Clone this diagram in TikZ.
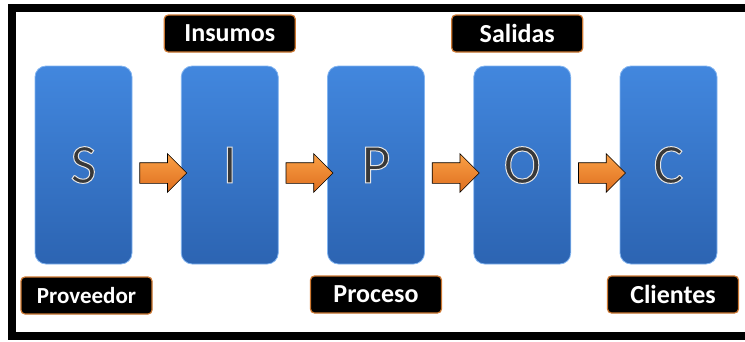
\documentclass[tikz,border=0pt]{standalone}
\usepackage{fontspec}
\setmainfont{Carlito}
\usepackage{tikz}
\usetikzlibrary{shapes, arrows, positioning, calc}
\definecolor{boxTop}{RGB}{66,135,222}
\definecolor{boxBottom}{RGB}{44,100,178}
\definecolor{boxRim}{RGB}{130,180,240}
\definecolor{arrowTop}{RGB}{250,160,70}
\definecolor{arrowBottom}{RGB}{222,110,30}
\definecolor{glow}{RGB}{205,120,50}
\tikzstyle{stage}=[rectangle, rounded corners=11pt, minimum width=97pt,
  minimum height=198pt, top color=boxTop, bottom color=boxBottom,
  draw=boxRim, line width=0.8pt, inner sep=0pt,
  font=\fontsize{56}{56}\selectfont]
\tikzstyle{tag}=[rectangle, rounded corners=4pt, fill=black, draw=glow,
  line width=1.2pt, minimum width=131pt, minimum height=37pt, text=white,
  font=\fontsize{26}{26}\selectfont\bfseries]
\tikzstyle{flow}=[single arrow, draw=black, line width=0.6pt,
  top color=arrowTop, bottom color=arrowBottom, text height=10pt,
  text depth=10pt, minimum height=47pt, single arrow head extend=9pt,
  single arrow tip angle=90, inner sep=0pt]
\tikzstyle{frame}=[line width=8pt, draw=black]
% outlined letter: dark fill, light stroke
\newcommand{\stageLetter}[1]{%
  \special{pdf:literal direct 2 Tr 1 w 0.9 G 0.22 g}#1%
  \special{pdf:literal direct 0 Tr}}

\begin{document}
\begin{tikzpicture}[x=1pt, y=-1pt]
      \useasboundingbox (0,0) rectangle (745,341);
      \draw[frame] (750,8) -- (12,8) -- (12,336) -- (750,336);

      \node[stage] (S) at (83.5,165) {\stageLetter{S}};
      \node[stage] (I) at (229.75,165) {\stageLetter{I}};
      \node[stage] (P) at (376,165) {\stageLetter{P}};
      \node[stage] (O) at (522.25,165) {\stageLetter{O}};
      \node[stage] (C) at (668.5,165) {\stageLetter{C}};

      \node[flow] at ($(S.east)!0.5!(I.west)+(1.5,8)$) {};
      \node[flow] at ($(I.east)!0.5!(P.west)+(1.5,8)$) {};
      \node[flow] at ($(P.east)!0.5!(O.west)+(1.5,8)$) {};
      \node[flow] at ($(O.east)!0.5!(C.west)+(1.5,8)$) {};

      \node[tag, above=13pt of I] (insumos) {Insumos};
      \node[tag, above=13pt of O, xshift=-5pt] (salidas) {Salidas};
      \node[tag, below=12pt of S, xshift=3pt,
        font=\fontsize{23}{23}\selectfont\bfseries] (proveedor) {Proveedor};
      \node[tag, below=11pt of P] (proceso) {Proceso};
      \node[tag, below=11pt of C, xshift=4.5pt] (clientes) {Clientes};
    \end{tikzpicture}
\end{document}
